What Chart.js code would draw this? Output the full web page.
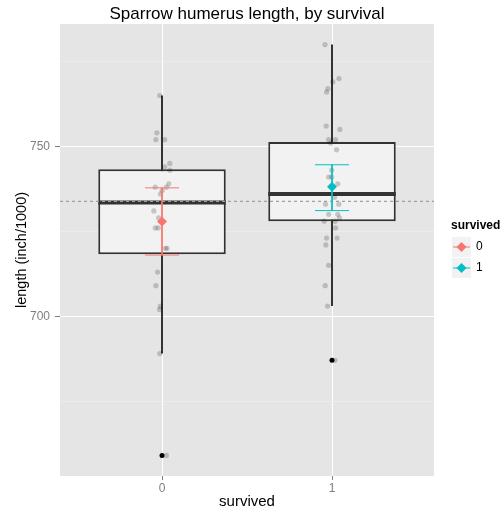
<!DOCTYPE html>
<html>
<head>
<meta charset="utf-8">
<script src="https://cdn.jsdelivr.net/npm/chart.js@4"></script>
<style>
  html, body { margin: 0; padding: 0; background: #fff; }
</style>
</head>
<body>
<canvas id="chart" width="504" height="512"></canvas>
<script>
// Data
const categories = ['0', '1'];
const groupColors = ['#F8766D', '#00BFC4'];

// jittered observations (inch/1000) and their horizontal jitter (x units)
const died = [765, 754, 752, 752, 745, 744, 743, 739, 738, 738, 737, 736, 731, 729, 726, 726, 720, 720, 713, 709, 703, 702, 689, 659];
const diedJitter = [-0.013, -0.03, -0.036, 0.016, 0.046, 0.016, 0.046, 0.04, 0.026, -0.04, 0.001, -0.009, -0.048, -0.02, -0.04, -0.022, 0.02, 0.03, -0.026, -0.036, -0.01, -0.015, -0.013, 0.026];
const survived = [780, 770, 769, 767, 766, 756, 755, 752, 752, 751, 749, 743, 741, 741, 739, 735, 733, 733, 730, 730, 729, 728, 728, 726, 723, 723, 721, 715, 709, 703, 687];
const survivedJitter = [-0.041, 0.041, 0.005, -0.024, -0.032, -0.034, 0.046, -0.02, 0.021, -0.008, 0.027, -0.002, -0.02, -0.002, 0.034, 0.015, -0.038, 0.04, -0.02, 0.034, 0.044, -0.046, 0.018, 0.021, -0.032, 0.03, -0.036, -0.02, -0.04, -0.026, 0.018];

// boxplot summary per group
const whiskerLow = [689, 703];
const boxQ1 = [718.25, 728];
const boxMedian = [733.5, 736];
const boxQ3 = [743.25, 751.3];
const whiskerHigh = [765, 780];
const outliers = [659, 687];

// group means with interval
const groupMean = [727.9, 738.1];
const ciLow = [718.0, 731.1];
const ciHigh = [737.8, 744.6];
const overallMean = 733.8;

const yLimits = [652.95, 786.05];
const yTicks = [675, 700, 725, 750, 775];
const xLimits = [0.4, 2.6];

const FONT = "'Liberation Sans', Arial, sans-serif";
Chart.defaults.font.family = FONT;

// Build datasets
const datasets = [];

categories.forEach((c, i) => {
  const x = i + 1;
  // whisker
  datasets.push({
    type: 'line',
    data: [{ x: x, y: whiskerLow[i] }, { x: x, y: whiskerHigh[i] }],
    borderColor: '#333333',
    borderWidth: 2,
    pointRadius: 0,
    order: 20
  });
  // median
  datasets.push({
    type: 'line',
    data: [{ x: x - 0.375, y: boxMedian[i] }, { x: x + 0.375, y: boxMedian[i] }],
    borderColor: '#333333',
    borderWidth: 4,
    borderCapStyle: 'butt',
    pointRadius: 0,
    order: 18
  });
  // error bar
  datasets.push({
    type: 'line',
    data: [
      { x: x - 0.1, y: ciHigh[i] }, { x: x + 0.1, y: ciHigh[i] }, { x: x, y: null },
      { x: x, y: ciHigh[i] }, { x: x, y: ciLow[i] }, { x: x, y: null },
      { x: x - 0.1, y: ciLow[i] }, { x: x + 0.1, y: ciLow[i] }
    ],
    borderColor: groupColors[i],
    borderWidth: 1,
    pointRadius: 0,
    spanGaps: false,
    order: 2
  });
});

// boxes
datasets.push({
  type: 'bar',
  data: categories.map((c, i) => ({ x: i + 1, y: [boxQ1[i], boxQ3[i]] })),
  backgroundColor: '#F2F2F2',
  borderColor: '#333333',
  borderWidth: 2,
  borderSkipped: false,
  barPercentage: 0.75,
  categoryPercentage: 1,
  order: 19
});

// outliers
datasets.push({
  type: 'scatter',
  data: outliers.map((v, i) => ({ x: i + 1, y: v })),
  backgroundColor: '#000000',
  borderWidth: 0,
  pointRadius: 2.5,
  order: 17
});

// jittered points
datasets.push({
  type: 'scatter',
  data: died.map((v, k) => ({ x: 1 + diedJitter[k], y: v }))
    .concat(survived.map((v, k) => ({ x: 2 + survivedJitter[k], y: v }))),
  backgroundColor: 'rgba(0,0,0,0.19)',
  borderWidth: 0,
  pointRadius: 2.6,
  order: 16
});

// overall mean reference line
datasets.push({
  type: 'line',
  data: [{ x: xLimits[0], y: overallMean }, { x: xLimits[1], y: overallMean }],
  borderColor: '#A0A0A0',
  borderWidth: 1.2,
  borderDash: [3, 3],
  pointRadius: 0,
  order: 15
});

// group means
datasets.push({
  type: 'scatter',
  data: groupMean.map((v, i) => ({ x: i + 1, y: v })),
  backgroundColor: groupColors,
  borderWidth: 0,
  pointStyle: 'rectRot',
  pointRadius: 5,
  order: 1
});

// panel background, title and legend
const ggPanel = {
  id: 'ggPanel',
  beforeDraw(chart) {
    const { ctx, chartArea: a } = chart;
    ctx.save();
    ctx.fillStyle = '#FFFFFF';
    ctx.fillRect(0, 0, chart.width, chart.height);
    ctx.fillStyle = '#E5E5E5';
    ctx.fillRect(a.left, a.top, a.right - a.left, a.bottom - a.top);
    ctx.restore();
  },
  afterDraw(chart) {
    const { ctx, chartArea: a } = chart;
    ctx.save();
    ctx.fillStyle = '#000000';
    ctx.font = '17px ' + FONT;
    ctx.textAlign = 'center';
    ctx.textBaseline = 'alphabetic';
    ctx.fillText('Sparrow humerus length, by survival', (a.left + a.right) / 2, 19);

    // legend
    ctx.textAlign = 'left';
    ctx.textBaseline = 'middle';
    ctx.font = 'bold 12px ' + FONT;
    ctx.fillText('survived', 451, 226);
    ctx.font = '12px ' + FONT;
    categories.forEach((c, i) => {
      const kx = 452, ky = 237 + i * 21, kw = 19, kh = 20;
      const cx = kx + kw / 2, cy = ky + kh / 2;
      ctx.fillStyle = '#F2F2F2';
      ctx.fillRect(kx, ky, kw, kh);
      ctx.strokeStyle = groupColors[i];
      ctx.lineWidth = 1;
      ctx.beginPath();
      ctx.moveTo(kx + 1, cy);
      ctx.lineTo(kx + kw - 1, cy);
      ctx.stroke();
      ctx.fillStyle = groupColors[i];
      ctx.beginPath();
      ctx.moveTo(cx, cy - 5);
      ctx.lineTo(cx + 5, cy);
      ctx.lineTo(cx, cy + 5);
      ctx.lineTo(cx - 5, cy);
      ctx.closePath();
      ctx.fill();
      ctx.fillStyle = '#000000';
      ctx.fillText(c, 476, cy);
    });
    ctx.restore();
  }
};

const isMajor = (ctx) => ctx.tick && ctx.tick.value % 50 === 0;

new Chart(document.getElementById('chart'), {
  type: 'scatter',
  data: { datasets: datasets },
  options: {
    responsive: false,
    animation: false,
    devicePixelRatio: 1,
    layout: { padding: { top: 24, right: 70, left: 0, bottom: 0 } },
    plugins: {
      legend: { display: false },
      tooltip: { enabled: false },
      title: { display: false }
    },
    scales: {
      x: {
        type: 'linear',
        min: xLimits[0],
        max: xLimits[1],
        offset: false,
        afterBuildTicks: (scale) => { scale.ticks = categories.map((c, i) => ({ value: i + 1 })); },
        afterFit: (scale) => { scale.height = 36; },
        ticks: {
          callback: (v) => categories[v - 1],
          color: '#7F7F7F',
          font: { size: 12 },
          padding: 1,
          maxRotation: 0,
          autoSkip: false
        },
        grid: {
          offset: false,
          color: '#FFFFFF',
          lineWidth: 1,
          tickColor: '#7F7F7F',
          tickLength: 4,
          tickWidth: 1
        },
        border: { display: false },
        title: {
          display: true,
          text: 'survived',
          color: '#000000',
          font: { size: 15 },
          padding: { top: 0, bottom: 1 }
        }
      },
      y: {
        type: 'linear',
        min: yLimits[0],
        max: yLimits[1],
        afterBuildTicks: (scale) => { scale.ticks = yTicks.map(v => ({ value: v })); },
        afterFit: (scale) => { scale.width = 60; },
        ticks: {
          callback: (v) => (v % 50 === 0 ? String(v) : ''),
          color: '#7F7F7F',
          font: { size: 12 },
          padding: 5
        },
        grid: {
          color: (ctx) => (isMajor(ctx) ? '#FFFFFF' : '#EDEDED'),
          lineWidth: (ctx) => (isMajor(ctx) ? 1 : 0.8),
          tickColor: (ctx) => (isMajor(ctx) ? '#7F7F7F' : 'rgba(0,0,0,0)'),
          tickLength: 5,
          tickWidth: 1
        },
        border: { display: false },
        title: {
          display: true,
          text: 'length (inch/1000)',
          color: '#000000',
          font: { size: 14.5 },
          padding: { top: 13, bottom: 0 }
        }
      }
    }
  },
  plugins: [ggPanel]
});
</script>
</body>
</html>
